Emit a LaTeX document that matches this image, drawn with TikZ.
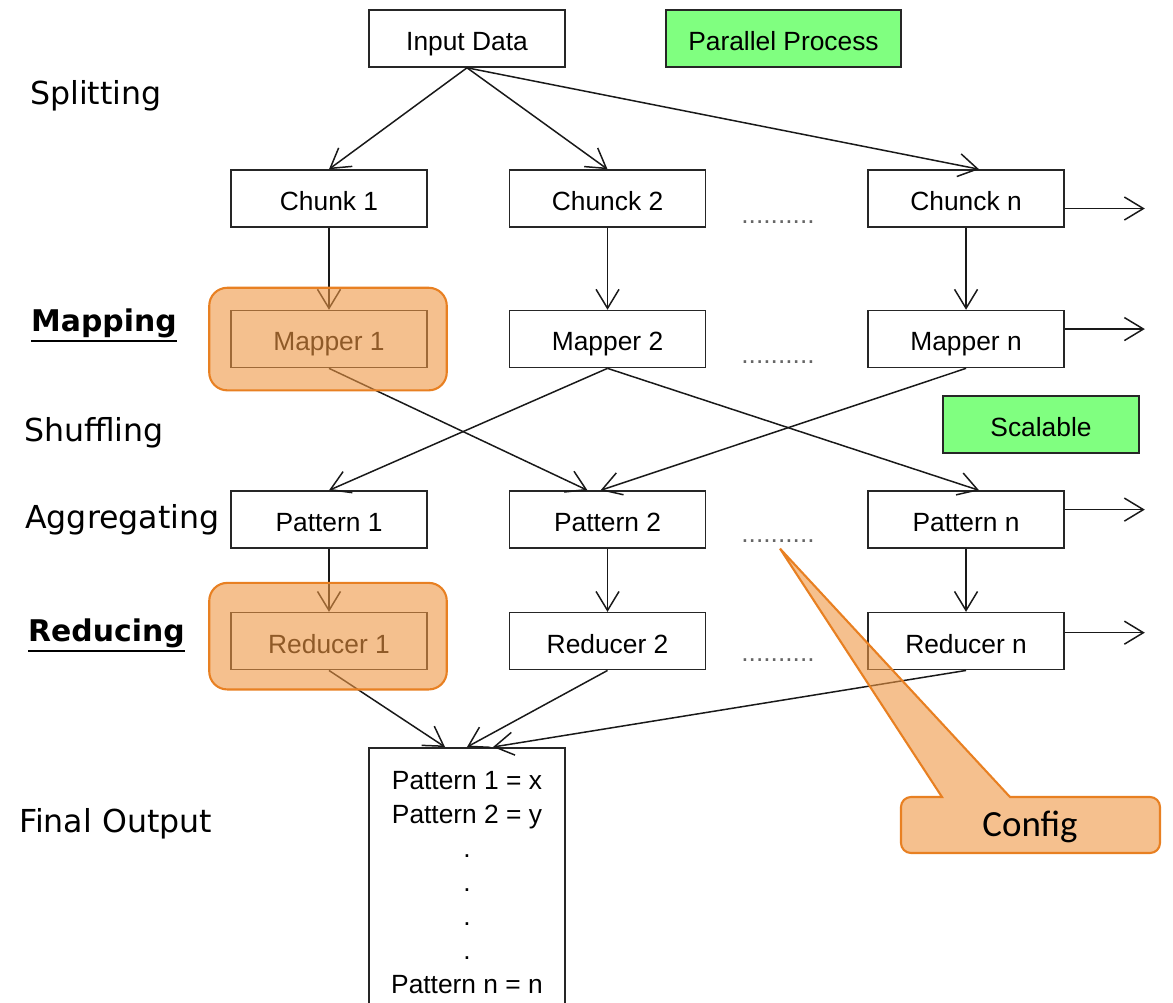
\documentclass[tikz,border=0pt]{standalone}
\usepackage{fontspec}
\setmainfont{Liberation Sans}
\newfontfamily\stagefont{DejaVu Sans}
\newfontfamily\calloutfont{Carlito}
\usetikzlibrary{arrows.meta,positioning}
\definecolor{markerFill}{RGB}{238,150,67}
\definecolor{markerDraw}{RGB}{232,128,34}
\definecolor{tagGreen}{RGB}{128,255,128}
\newcommand{\myBoxFont}{\fontsize{15}{18}\selectfont}
\newcommand{\stageUline}[1]{\vtop{\hbox{#1}\kern1.2pt\hrule height 1.5pt}}

\begin{document}
\begin{tikzpicture}[x=0.02cm,y=-0.02cm,>={Straight Barb[length=3.8mm,width=4.6mm]},
	Edge/.style={->,black!90,line width=0.85pt},
	Box/.style={rectangle,draw=black!85,line width=0.9pt,fill=white,minimum width=3.92cm,minimum height=1.14cm,inner sep=0pt,text height=13.5pt,text depth=0pt,font=\myBoxFont},
	Tag/.style={Box,fill=tagGreen},
	Stage/.style={anchor=west,font=\stagefont\fontsize{18}{22}\selectfont},
	KeyStage/.style={Stage,anchor=base west,font=\stagefont\bfseries\fontsize{17}{21}\selectfont},
	Dots/.style={font=\myBoxFont,text=black!60},
	Marker/.style={rounded corners=0.36cm,fill=markerFill,fill opacity=0.6,draw=markerDraw,line width=1.2pt},
]
	\useasboundingbox (0,0) rectangle (1173,1002);

	% stage names on the left
	\node[Stage] (split) at (24,96) {Splitting};
	\node[KeyStage] (map) at (25,331) {\stageUline{Mapping}};
	\node[Stage] (shuffle) at (18,433) {Shuffling};
	\node[Stage] (aggr) at (19,520) {Aggregating};
	\node[KeyStage] (reduce) at (22,641) {\stageUline{Reducing}};
	\node[Stage] (output) at (13,824) {Final Output};

	\node[Box] (input) at (467,38.5) {Input Data};
	\node[Tag, minimum width=4.7cm] (parallel) at (783.5,38.5) {Parallel Process};
	\node[Tag] (scalable) at (1041,424.5) {Scalable};

	\node[Box] (chunk1) at (329,198.5) {Chunk 1};
	\node[Box] (chunk2)[right=1.62cm of chunk1]{Chunck 2};
	\node[Box] (chunkn)[right=3.22cm of chunk2]{Chunck n};

	\node[Box] (mapper1)[below=1.64cm of chunk1]{Mapper 1};
	\node[Box] (mapper2)[below=1.64cm of chunk2]{Mapper 2};
	\node[Box] (mappern)[below=1.64cm of chunkn]{Mapper n};

	\node[Box] (pattern1)[below=2.44cm of mapper1]{Pattern 1};
	\node[Box] (pattern2)[below=2.44cm of mapper2]{Pattern 2};
	\node[Box] (patternn)[below=2.44cm of mappern]{Pattern n};

	\node[Box] (reducer1)[below=1.26cm of pattern1]{Reducer 1};
	\node[Box] (reducer2)[below=1.26cm of pattern2]{Reducer 2};
	\node[Box] (reducern)[below=1.26cm of patternn]{Reducer n};

	\node[Box, anchor=north, minimum height=5.4cm, align=center, text height=, text depth=, font=\fontsize{15}{19.3}\selectfont] (final) at (467,747)
		{Pattern 1 = x\\Pattern 2 = y\\.\\.\\.\\.\\Pattern n = n};

	\node[Dots] (dots1) at (778,222) {..........};
	\node[Dots] (dots2) at (778,362) {..........};
	\node[Dots] (dots3) at (778,541) {..........};
	\node[Dots] (dots4) at (778,660) {..........};

	\coordinate[right=1.6cm of chunkn.east, yshift=-0.2cm] (chunkout);
	\coordinate[right=1.6cm of mappern.east, yshift=0.2cm] (mapperout);
	\coordinate[right=1.6cm of patternn.east, yshift=0.2cm] (patternout);
	\coordinate[right=1.6cm of reducern.east, yshift=0.17cm] (reducerout);

	\path[Edge]
	(input.south) edge (chunk1.north)
	(input.south) edge (chunk2.north)
	(input.south) edge ([xshift=0.26cm]chunkn.north)
	(chunk1) edge (mapper1)
	(chunk2) edge (mapper2)
	(chunkn) edge (mappern)
	(mapper1.south) edge ([xshift=-0.4cm]pattern2.north)
	(mapper2.south) edge (pattern1.north)
	(mapper2.south) edge ([xshift=0.26cm]patternn.north)
	(mappern.south) edge ([xshift=-0.14cm]pattern2.north)
	(pattern1) edge (reducer1)
	(pattern2) edge (reducer2)
	(patternn) edge (reducern)
	(reducer1.south) edge ([xshift=-0.44cm]final.north)
	(reducer2.south) edge (final.north)
	(reducern.south) edge ([xshift=0.52cm]final.north)
	([yshift=-0.2cm]chunkn.east) edge (chunkout)
	([yshift=0.2cm]mappern.east) edge (mapperout)
	([yshift=0.2cm]patternn.east) edge (patternout)
	([yshift=0.17cm]reducern.east) edge (reducerout)
	;

	% highlighted steps
	\draw[Marker] ([shift={(-0.42cm,0.44cm)}]mapper1.north west) rectangle ([shift={(0.38cm,-0.44cm)}]mapper1.south east);
	\draw[Marker] ([shift={(-0.42cm,0.58cm)}]reducer1.north west) rectangle ([shift={(0.38cm,-0.38cm)}]reducer1.south east);

	% callout
	\path[Marker, rounded corners=0pt] (942,797) -- ([xshift=0.04cm]dots3.south) -- (1010,797) [rounded corners=0.2cm] -- (1160,797) -- (1160,853) -- (901,853) -- (901,797) [sharp corners] -- cycle;
	\node[font=\calloutfont\fontsize{21}{25}\selectfont] (config) at (1030,827) {Config};
\end{tikzpicture}
\end{document}
